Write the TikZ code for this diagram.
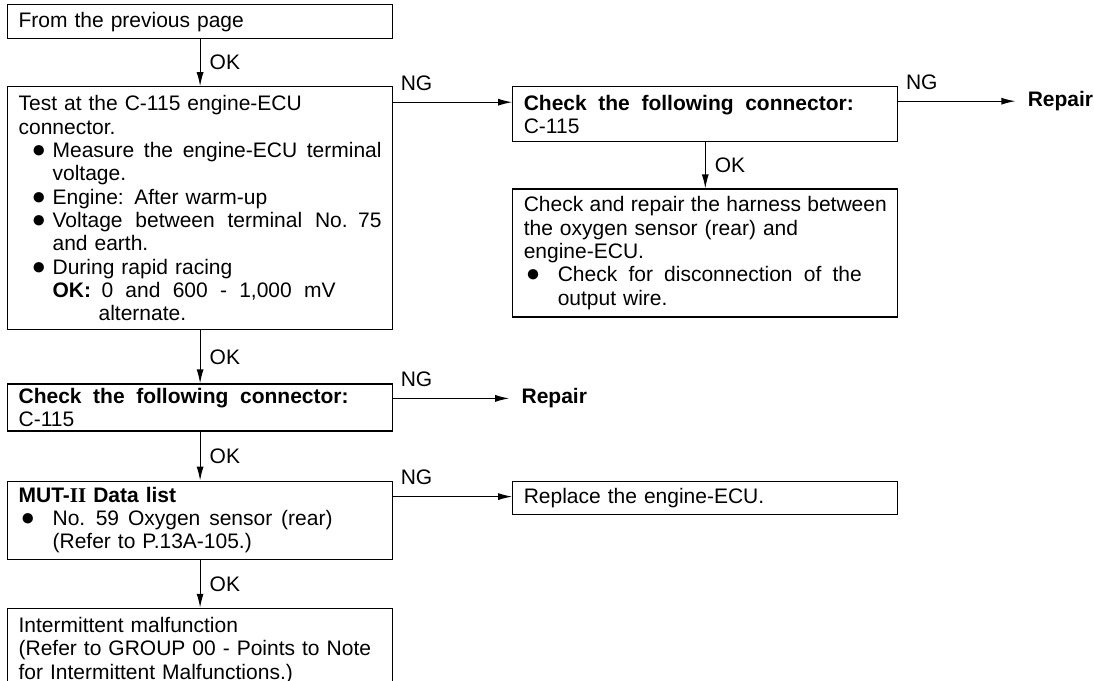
\documentclass[tikz,border=0pt]{standalone}
\usepackage{fontspec}
\setmainfont{Liberation Sans}
\newfontfamily\romfont{Liberation Serif}
\usetikzlibrary{arrows.meta,positioning}

\newcommand{\dotitem}[1][1pt]{\makebox[17pt][l]{\hspace*{#1}{\fontsize{12}{11.65}\selectfont ●}}}
\newcommand{\hangline}{\hspace*{17pt}}
% spread a line over the given width
\newcommand{\spread}[2][181.5pt]{{\spaceskip=.3333em plus 2em minus .1em\makebox[#1][s]{#2}}}

\tikzset{
  box/.style={draw, line width=0.6pt, text width=181.5pt, inner xsep=5.5pt, inner ysep=0pt, align=left},
  flow/.style={line width=0.6pt, -{Latex[length=7pt,width=3.5pt]}},
  ok/.style={right, inner sep=0pt, xshift=4.5pt},
  ng/.style={anchor=base west, inner sep=0pt, xshift=3.5pt, yshift=6pt},
  repair/.style={anchor=west, inner xsep=6pt, inner ysep=0pt, font=\fontsize{10.5}{11.65}\selectfont\bfseries},
}

\begin{document}
\begin{tikzpicture}[x=0.5pt, y=-0.5pt, font=\fontsize{10.5}{11.65}\selectfont]
\useasboundingbox (0,0) rectangle (1094,681);

% left column
\node[box, minimum height=17pt, anchor=north west] (start) at (7,4) {From the previous page};
\node[box, minimum height=121.5pt, below=23.5pt of start] (test) {Test at the C-115 engine-ECU\\
connector.\\
\spread{\dotitem[6.5pt]Measure the engine-ECU terminal}\\
\hangline voltage.\\
\dotitem[6.5pt]Engine: After warm-up\\
\spread{\dotitem[6.5pt]Voltage between terminal No. 75}\\
\hangline and earth.\\
\dotitem[6.5pt]During rapid racing\\
\hangline\spread[141.5pt]{\textbf{OK:}\enspace 0 and 600 - 1,000 mV}\\
\hspace*{40pt}alternate.};
\node[box, minimum height=23.5pt, below=26.5pt of test] (chk) {\spread[165pt]{\textbf{Check the following connector:}}\\
C-115};
\node[box, minimum height=39pt, below=24.5pt of chk] (mut) {\textbf{MUT-{\romfont II} Data list}\\
\spread[157pt]{\dotitem No. 59 Oxygen sensor (rear)}\\
\hangline(Refer to P.13A-105.)};
\node[box, minimum height=42pt, below=24pt of mut] (inter) {Intermittent malfunction\\
(Refer to GROUP 00 - Points to Note\\
for Intermittent Malfunctions.)};

% right column
\node[box, minimum height=27.5pt, right=59.5pt of test.north east, anchor=north west] (conn) {\spread[165pt]{\textbf{Check the following connector:}}\\
C-115};
\node[box, minimum height=64pt, below=23pt of conn] (harness) {\spread{Check and repair the harness between}\\
the oxygen sensor (rear) and\\
engine-ECU.\\
\spread[169pt]{\dotitem Check for disconnection of the}\\
\hangline output wire.};
\node[box, minimum height=16.5pt, right=59.5pt of mut.north east, anchor=north west] (replace) {Replace the engine-ECU.};

\node[repair] (rep1) at ([xshift=58.5pt,yshift=-7.5pt]conn.north east) {Repair};
\node[repair] (rep2) at ([xshift=58pt,yshift=-7.5pt]chk.north east) {Repair};

\coordinate (connin) at ([yshift=-8pt]conn.north west);
\coordinate (replin) at ([yshift=-8pt]replace.north west);

% OK branches
\draw[flow] (start) -- (test) node[ok, midway] {OK};
\draw[flow] (test) -- (chk) node[ok, midway] {OK};
\draw[flow] (chk) -- (mut) node[ok, midway] {OK};
\draw[flow] (mut) -- (inter) node[ok, midway] {OK};
\draw[flow] (conn) -- (harness) node[ok, midway] {OK};

% NG branches
\draw[flow] (test.east |- connin) -- (connin) node[ng, pos=0] {NG};
\draw[flow] (conn.east |- rep1.west) -- (rep1.west) node[ng, pos=0] {NG};
\draw[flow] (chk.east |- rep2.west) -- (rep2.west) node[ng, pos=0] {NG};
\draw[flow] (mut.east |- replin) -- (replin) node[ng, pos=0] {NG};
\end{tikzpicture}
\end{document}
